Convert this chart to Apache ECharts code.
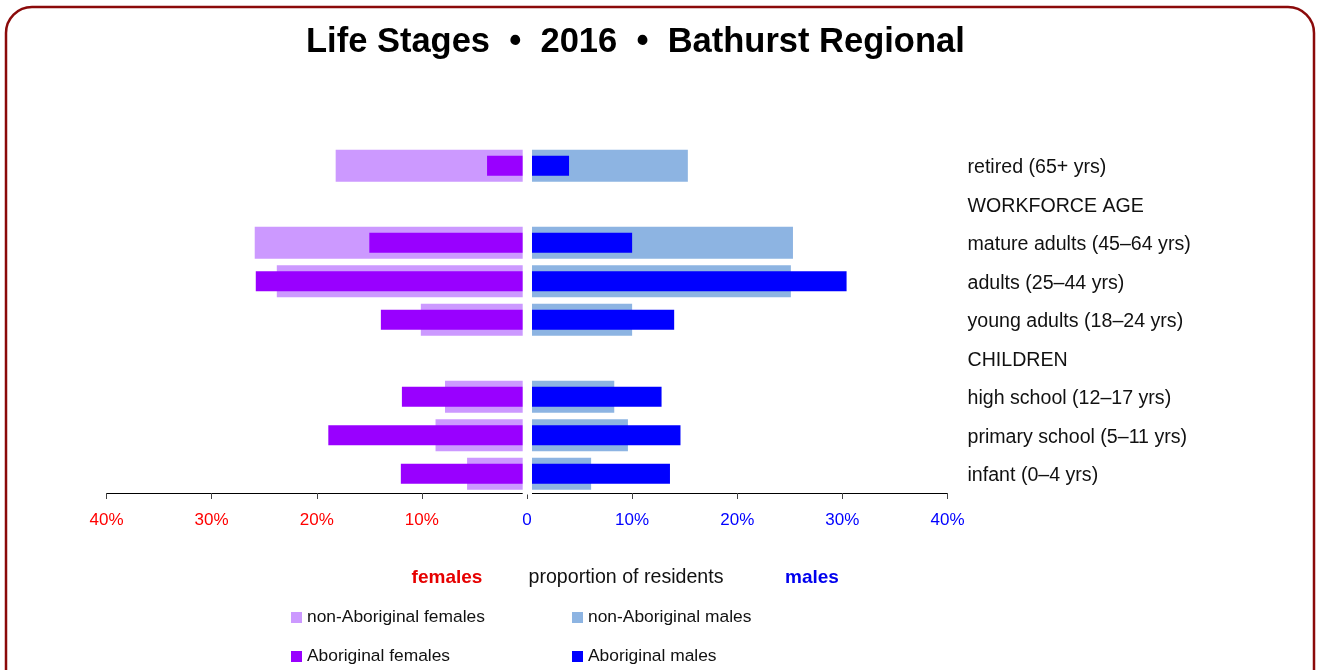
<!DOCTYPE html>
<html>
<head>
<meta charset="utf-8">
<script src="https://cdn.jsdelivr.net/npm/echarts@6/dist/echarts.min.js"></script>
<style>
html,body{margin:0;padding:0;background:#fff;}
#chart{width:1320px;height:670px;}
</style>
</head>
<body>
<div id="chart"></div>
<script>
const categories = ['retired (65+ yrs)', 'WORKFORCE AGE', 'mature adults (45–64 yrs)', 'adults (25–44 yrs)', 'young adults (18–24 yrs)', 'CHILDREN', 'high school (12–17 yrs)', 'primary school (5–11 yrs)', 'infant (0–4 yrs)'];
const nonAbFemales = [18.2, null, 25.9, 23.8, 10.1, null, 7.8, 8.7, 5.7];
const abFemales    = [3.8, null, 15.0, 25.8, 13.9, null, 11.9, 18.9, 12.0];
const nonAbMales   = [15.3, null, 25.3, 25.1, 10.0, null, 8.3, 9.6, 6.1];
const abMales      = [4.0, null, 10.0, 30.4, 14.0, null, 12.8, 14.6, 13.6];
const tickMin = -40, tickMax = 40, tickStep = 10;

const FONT = "'Liberation Sans', Arial, Helvetica, sans-serif";
const neg = a => a.map(v => v == null ? '-' : -v);
const pos = a => a.map(v => v == null ? '-' : v);

const legendBase = {
  orient: 'vertical', top: 609, padding: 0,
  itemWidth: 11, itemHeight: 11, itemGap: 22,
  icon: 'rect', selectedMode: false,
  textStyle: {fontFamily: FONT, fontSize: 17.4, color: '#111'}
};

const chart = echarts.init(document.getElementById('chart'), null, {renderer: 'canvas'});
chart.setOption({
  animation: false,
  backgroundColor: '#fff',
  title: {
    text: 'Life Stages  •  2016  •  Bathurst Regional',
    left: 301, top: 20,
    textStyle: {fontFamily: FONT, fontWeight: 'bold', fontSize: 34.5, color: '#000'}
  },
  legend: [
    Object.assign({}, legendBase, {left: 291, data: ['non-Aboriginal females', 'Aboriginal females']}),
    Object.assign({}, legendBase, {left: 572, data: ['non-Aboriginal males', 'Aboriginal males']})
  ],
  grid: {left: 106.5, right: 372.5, top: 146.5, bottom: 177, containLabel: false},
  xAxis: {
    type: 'value', min: tickMin, max: tickMax, interval: tickStep,
    splitLine: {show: false},
    axisLine: {show: true, lineStyle: {color: '#000', width: 1}},
    axisTick: {show: true, length: 6, lineStyle: {color: '#444'}},
    axisLabel: {
      margin: 19,
      fontFamily: FONT, fontSize: 17,
      formatter: v => v < 0 ? '{f|' + (-v) + '%}' : (v === 0 ? '{m|0}' : '{m|' + v + '%}'),
      rich: {
        f: {color: '#ff0000', fontFamily: FONT, fontSize: 17},
        m: {color: '#0000ff', fontFamily: FONT, fontSize: 17}
      }
    }
  },
  yAxis: [
    {
      type: 'category', data: categories, inverse: true, position: 'right',
      axisLine: {show: false}, axisTick: {show: false}, splitLine: {show: false},
      axisLabel: {
        margin: 20, fontFamily: FONT, fontSize: 19.6, color: '#111', align: 'left',
        formatter: v => '{c|' + v + '}',
        rich: {c: {fontFamily: FONT, fontSize: 19.6, color: '#111', padding: [4, 0, 0, 0]}}
      }
    },
    {
      type: 'category', data: categories, inverse: true, position: 'right', show: false
    }
  ],
  series: [
    {name: 'non-Aboriginal females', type: 'bar', stack: 'n', yAxisIndex: 0, barWidth: 32, data: neg(nonAbFemales), itemStyle: {color: '#cc99ff'}},
    {name: 'non-Aboriginal males', type: 'bar', stack: 'n', yAxisIndex: 0, barWidth: 32, data: pos(nonAbMales), itemStyle: {color: '#8db4e2'}},
    {name: 'Aboriginal females', type: 'bar', stack: 'a', yAxisIndex: 1, barWidth: 20, data: neg(abFemales), itemStyle: {color: '#9900ff'}},
    {name: 'Aboriginal males', type: 'bar', stack: 'a', yAxisIndex: 1, barWidth: 20, data: pos(abMales), itemStyle: {color: '#0000ff'}}
  ],
  graphic: [
    {type: 'rect', z: 100, silent: true, shape: {x: 522.7, y: 140, width: 9.3, height: 354.5}, style: {fill: '#fff'}},
    {type: 'rect', z: 100, silent: true, shape: {x: 6, y: 7, width: 1308, height: 720, r: 26}, style: {fill: null, stroke: '#8b0a0a', lineWidth: 2.5}},
    {type: 'text', z: 100, x: 447, y: 578, style: {text: 'females', fill: '#e60000', font: "bold 19px " + FONT, textAlign: 'center', textVerticalAlign: 'middle'}},
    {type: 'text', z: 100, x: 626, y: 578, style: {text: 'proportion of residents', fill: '#111', font: "19.6px " + FONT, textAlign: 'center', textVerticalAlign: 'middle'}},
    {type: 'text', z: 100, x: 812, y: 578, style: {text: 'males', fill: '#0000ee', font: "bold 19px " + FONT, textAlign: 'center', textVerticalAlign: 'middle'}}
  ]
});
</script>
</body>
</html>
